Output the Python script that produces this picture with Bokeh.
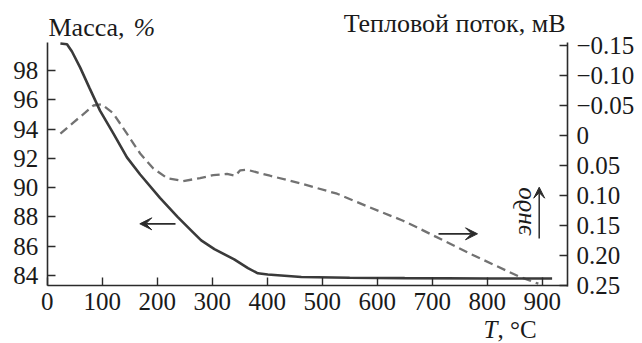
from math import pi
from bokeh.plotting import figure
from bokeh.models import Range1d, LinearAxis, FixedTicker, Label, Arrow, VeeHead, CustomJSTickFormatter
from bokeh.embed import file_html
from bokeh.resources import INLINE

# ---- data ----
mass_T = [24, 36, 45, 60, 77, 96, 121, 145, 169, 205, 237, 262, 280, 304, 340, 365, 383, 401, 462, 550, 650, 800, 918]
mass = [99.85, 99.8, 99.3, 98.2, 96.8, 95.26, 93.66, 92.07, 90.9, 89.3, 88.0, 87.07, 86.4, 85.8, 85.1, 84.5, 84.15, 84.07, 83.9, 83.85, 83.82, 83.8, 83.8]

heat_T = [24, 48, 69, 84, 99, 120, 145, 169, 193, 218, 247, 278, 302, 327, 342, 351, 363, 405, 465, 527, 587, 647, 672, 769, 860, 893]
heat = [-0.003, -0.022, -0.038, -0.050, -0.052, -0.037, -0.003, 0.030, 0.055, 0.071, 0.076, 0.071, 0.066, 0.064, 0.067, 0.058, 0.057, 0.067, 0.081, 0.097, 0.120, 0.142, 0.153, 0.197, 0.236, 0.247]

x_ticks = [0, 100, 200, 300, 400, 500, 600, 700, 800, 900]
mass_ticks = [84, 86, 88, 90, 92, 94, 96, 98]
heat_ticks = [-0.15, -0.10, -0.05, 0.0, 0.05, 0.10, 0.15, 0.20, 0.25]

# ---- layout (pixels on the canvas) ----
W, H = 642, 343
PX_T, X0 = 0.55, 46.7          # px per degC, canvas x of T = 0
PX_M, Y84 = 14.64, 275.0       # px per mass %, canvas y of 84 %
PX_H, Y0H = 600.0, 135.0       # px per mV, canvas y of heat 0
AXIS_BOTTOM_Y = 285.0
AXIS_TOP_Y = 42.0
AXIS_RIGHT_X = 567.0

def t_at(px):
    return (px - X0) / PX_T

def m_at(py):
    return 84 + (Y84 - py) / PX_M

def h_at(py):
    return (py - Y0H) / PX_H

FONT = "Times New Roman"
AX = "#2b2b2b"
TXT = "#1a1a1a"

p = figure(width=W, height=H, output_backend="svg", toolbar_location=None,
           x_range=Range1d(t_at(0), t_at(W)), y_range=Range1d(m_at(H), m_at(0)),
           min_border=0, min_border_left=0, min_border_right=0,
           min_border_top=0, min_border_bottom=0)
p.extra_y_ranges = {"heat": Range1d(h_at(H), h_at(0))}
p.outline_line_color = None
p.xgrid.visible = False
p.ygrid.visible = False
p.background_fill_color = "white"
p.border_fill_color = "white"

def style(ax, standoff):
    ax.axis_line_color = AX
    ax.axis_line_width = 1.6
    ax.major_tick_line_color = AX
    ax.major_tick_line_width = 1.4
    ax.major_tick_in = 8
    ax.major_tick_out = 0
    ax.minor_tick_line_color = None
    ax.major_label_text_font = FONT
    ax.major_label_text_font_size = "25px"
    ax.major_label_text_color = TXT
    ax.major_label_standoff = standoff

xax = p.xaxis[0]
xax.ticker = FixedTicker(ticks=x_ticks)
xax.fixed_location = m_at(AXIS_BOTTOM_Y)
xax.bounds = (0, t_at(AXIS_RIGHT_X))
style(xax, 7)

yax = p.yaxis[0]
yax.ticker = FixedTicker(ticks=mass_ticks)
yax.fixed_location = 0
yax.bounds = (m_at(AXIS_BOTTOM_Y), m_at(AXIS_TOP_Y))
style(yax, 9)

rax = LinearAxis(y_range_name="heat", ticker=FixedTicker(ticks=heat_ticks),
                 formatter=CustomJSTickFormatter(code="""
                    if (Math.abs(tick) < 1e-9) return '0';
                    const s = Math.abs(tick).toFixed(2);
                    return (tick < 0 ? '\u2212' : '') + s;
                 """))
rax.fixed_location = t_at(AXIS_RIGHT_X)
rax.bounds = (h_at(AXIS_TOP_Y), h_at(AXIS_BOTTOM_Y + 1))
style(rax, 9)
p.add_layout(rax, "right")

# curves
p.line(heat_T, heat, y_range_name="heat", line_color="#727272", line_width=2.3, line_dash="9 5")
p.line(mass_T, mass, line_color="#3a3a3a", line_width=2.6)

# arrows
p.add_layout(Arrow(end=VeeHead(size=12, fill_color=AX, line_color=AX, line_width=1),
                   x_start=t_at(175), y_start=m_at(223.3), x_end=t_at(139.3), y_end=m_at(223.3),
                   line_color=AX, line_width=1.8))
p.add_layout(Arrow(end=VeeHead(size=12, fill_color=AX, line_color=AX, line_width=1),
                   x_start=t_at(438), y_start=m_at(233.3), x_end=t_at(477), y_end=m_at(233.3),
                   line_color=AX, line_width=1.8))
p.add_layout(Arrow(end=VeeHead(size=11, fill_color=AX, line_color=AX, line_width=1),
                   x_start=t_at(538.7), y_start=m_at(238), x_end=t_at(538.7), y_end=m_at(186.7),
                   line_color=AX, line_width=1.5))

# texts
def lab(px, py, text, align="left", baseline="alphabetic", style="normal", size="26px", angle=0):
    p.add_layout(Label(x=t_at(px), y=m_at(py), text=text, text_font=FONT, text_font_size=size,
                       text_font_style=style, text_align=align, text_baseline=baseline,
                       text_color=TXT, angle=angle))

lab(48, 27, "Масса, ")
lab(133, 27, "%", style="italic")
lab(565, 23, "Тепловой поток, мВ", align="right")
lab(521.7, 211, "эндо", align="center", baseline="middle", style="italic", angle=pi / 2, size="25px")
lab(483, 329, "T", style="italic", size="25px")
lab(497, 329, ", °C", size="25px")

open("out.html", "w").write(file_html(p, INLINE))
